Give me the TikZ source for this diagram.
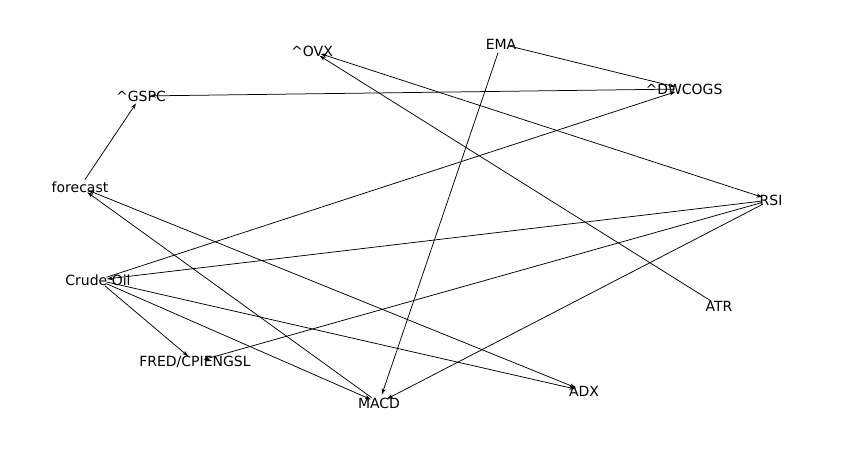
\documentclass[tikz,border=0pt]{standalone}
\usepackage{fontspec}
\setmainfont{DejaVu Sans}
\usetikzlibrary{arrows.meta}
\definecolor{ink}{HTML}{000000}
\tikzset{knoten/.style={inner sep=0,text=ink,font=\fontsize{14}{16}\selectfont},
  kante/.style={ink,line width=0.75pt,shorten <=9pt,shorten >=9pt,
    -{Stealth[length=6pt,width=4pt]}},
  zweiseitig/.style={kante,{Stealth[length=6pt,width=4pt]}-{Stealth[length=6pt,width=4pt]}}}

\begin{document}
\begin{tikzpicture}[x=1pt,y=-1pt]
\useasboundingbox (0,0) rectangle (851,449);
% Knoten
\node[knoten] (ovx) at (312,51) {\textasciicircum OVX};
\node[knoten] (ema) at (501,44) {EMA};
\node[knoten] (dwcogs) at (684,89) {\textasciicircum DWCOGS};
\node[knoten] (gspc) at (141,96) {\textasciicircum GSPC};
\node[knoten] (forecast) at (80,187) {forecast};
\node[knoten] (rsi) at (771,200) {RSI};
\node[knoten] (crude) at (98,280) {Crude Oil};
\node[knoten] (atr) at (719,306) {ATR};
\node[knoten] (fred) at (195,362) {FRED/CPIENGSL};
\node[knoten] (adx) at (584,391) {ADX};
\node[knoten] (macd) at (379,403) {MACD};
% Kanten
\draw[kante] (forecast.center) -- (gspc.center);
\draw[kante] (dwcogs.center) -- (gspc.center);
\draw[kante] (ema.center) -- (dwcogs.center);
\draw[kante] (crude.center) -- (dwcogs.center);
\draw[kante] (rsi.center) -- (crude.center);
\draw[zweiseitig] (ovx.center) -- (rsi.center);
\draw[kante] (atr.center) -- (ovx.center);
\draw[kante] (ema.center) -- (macd.center);
\draw[kante] (rsi.center) -- (macd.center);
\draw[kante] (rsi.center) -- (fred.center);
\draw[kante] (crude.center) -- (fred.center);
\draw[kante] (crude.center) -- (macd.center);
\draw[kante] (crude.center) -- (adx.center);
\draw[zweiseitig] (forecast.center) -- (adx.center);
\draw[kante] (macd.center) -- (forecast.center);
\end{tikzpicture}
\end{document}
